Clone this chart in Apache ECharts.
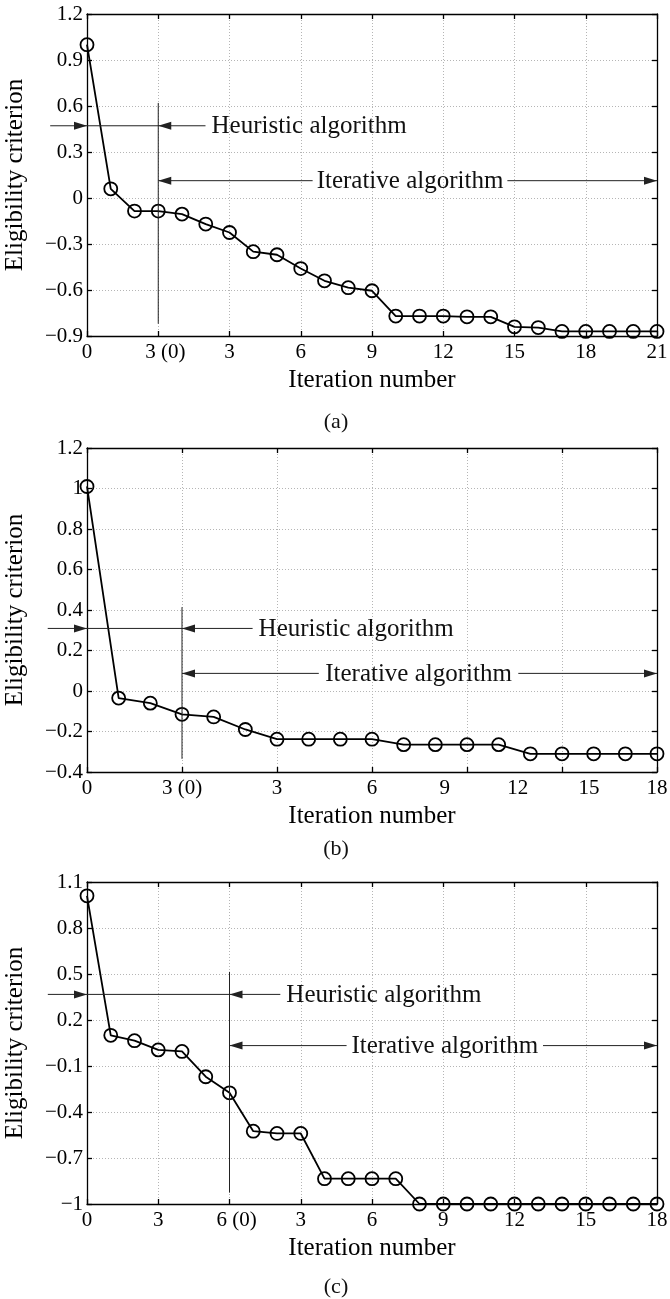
<!DOCTYPE html>
<html>
<head>
<meta charset="utf-8">
<script src="https://cdn.jsdelivr.net/npm/echarts@6/dist/echarts.min.js"></script>
<style>
html,body{margin:0;padding:0;background:#fff;}
#chart{width:670px;height:1299px;}
</style>
</head>
<body>
<div id="chart"></div>
<script>
// ---------------- data ----------------
const valuesA = [1.0, 0.06, -0.085, -0.085, -0.105, -0.17, -0.225, -0.35, -0.37, -0.46, -0.54, -0.585, -0.605,
                 -0.77, -0.77, -0.77, -0.775, -0.775, -0.84, -0.845, -0.87, -0.87, -0.87, -0.87, -0.87];
const valuesB = [1.01, -0.035, -0.06, -0.115, -0.128, -0.19, -0.238, -0.238, -0.238, -0.238,
                 -0.265, -0.265, -0.265, -0.265, -0.31, -0.31, -0.31, -0.31, -0.31];
const valuesC = [1.01, 0.1, 0.065, 0.005, -0.005, -0.17, -0.275, -0.525, -0.54, -0.54,
                 -0.835, -0.835, -0.835, -0.835, -1, -1, -1, -1, -1, -1, -1, -1, -1, -1, -1];

const xTickPosA = [0, 3, 6, 9, 12, 15, 18, 21, 24];
const xTickLabelsA = ['0', '3 (0)', '3', '6', '9', '12', '15', '18', '21'];
const xTickPosB = [0, 3, 6, 9, 11.3, 13.6, 15.85, 18];
const xTickLabelsB = ['0', '3 (0)', '3', '6', '9', '12', '15', '18'];
const xTickPosC = [0, 3, 6, 9, 12, 15, 18, 21, 24];
const xTickLabelsC = ['0', '3', '6 (0)', '3', '6', '9', '12', '15', '18'];

const yTicksA = [-0.9, -0.6, -0.3, 0, 0.3, 0.6, 0.9, 1.2];
const yTicksB = [-0.4, -0.2, 0, 0.2, 0.4, 0.6, 0.8, 1, 1.2];
const yTicksC = [-1, -0.7, -0.4, -0.1, 0.2, 0.5, 0.8, 1.1];

// annotation anchors (data units)
const switchX = [3, 3, 6];
const switchLineY = [[0.62, -0.82], [0.414, -0.335], [0.514, -0.926]];
const heurY = [0.471, 0.309, 0.367];
const heurSpan = [[-1.55, 4.99], [-1.24, 5.23], [-1.65, 8.14]];
const iterY = [0.113, 0.087, 0.033];
const iterGap = [[9.5, 17.7], [7.32, 13.62], [10.93, 19.2]];
const panelTags = ['(a)', '(b)', '(c)'];
const heurText = 'Heuristic algorithm';
const iterText = 'Iterative algorithm';

// ---------------- layout / style ----------------
const FONT = '"Liberation Serif", "Times New Roman", serif';
const grids = [
  {left: 87, right: 13, top: 14, height: 322},
  {left: 87, right: 13, top: 448, height: 324},
  {left: 87, right: 13, top: 882, height: 322}
];
const tagY = [422, 849, 1287];
const xLabelShift = [14, 0, 14];

const panels = [
  {vals: valuesA, xPos: xTickPosA, xLab: xTickLabelsA, yT: yTicksA, xMax: 24},
  {vals: valuesB, xPos: xTickPosB, xLab: xTickLabelsB, yT: yTicksB, xMax: 18},
  {vals: valuesC, xPos: xTickPosC, xLab: xTickLabelsC, yT: yTicksC, xMax: 24}
];

function fmtY(v) {
  const s = String(+(+v).toFixed(2));
  return s.replace('-', '\u2212');
}
const axisLineStyle = {color: '#000', width: 1.3};
const gridLineStyle = {color: '#b5b5b5', type: [1, 2], width: 1};

const xAxes = [], yAxes = [], series = [];
panels.forEach((p, i) => {
  const yMin = p.yT[0], yMax = p.yT[p.yT.length - 1];
  const labelFor = (v) => {
    let best = 0;
    p.xPos.forEach((q, k) => { if (Math.abs(q - v) < Math.abs(p.xPos[best] - v)) best = k; });
    const t = p.xLab[best];
    return t.indexOf('(') >= 0 && xLabelShift[i] ? '{s|' + t + '}' : t;
  };
  xAxes.push({
    gridIndex: i, type: 'value', min: 0, max: p.xMax, interval: 3, position: 'bottom',
    axisLine: {show: true, onZero: false, lineStyle: axisLineStyle},
    axisTick: {show: true, inside: true, length: 5, lineStyle: axisLineStyle},
    axisLabel: {
      customValues: p.xPos, formatter: labelFor, margin: 6, color: '#000',
      fontSize: 21, fontFamily: FONT,
      rich: {s: {fontSize: 21, fontFamily: FONT, color: '#000', padding: [0, 0, 0, xLabelShift[i]]}}
    },
    splitLine: {show: true, lineStyle: gridLineStyle},
    name: 'Iteration number', nameLocation: 'middle', nameGap: 32,
    nameTextStyle: {fontSize: 25, fontFamily: FONT, color: '#000'}
  });
  xAxes.push({
    gridIndex: i, type: 'value', min: 0, max: p.xMax, interval: 3, position: 'top',
    axisLine: {show: true, onZero: false, lineStyle: axisLineStyle},
    axisTick: {show: true, inside: true, length: 5, lineStyle: axisLineStyle},
    axisLabel: {show: false}, splitLine: {show: false}
  });
  const yCommon = {
    gridIndex: i, type: 'value', min: yMin, max: yMax
  };
  yAxes.push(Object.assign({}, yCommon, {
    position: 'left',
    axisLine: {show: true, onZero: false, lineStyle: axisLineStyle},
    axisTick: {show: true, inside: true, length: 5, lineStyle: axisLineStyle, customValues: p.yT},
    axisLabel: {customValues: p.yT, formatter: fmtY, margin: 4, color: '#000', fontSize: 21, fontFamily: FONT,
                padding: [4, 0, 0, 0]},
    splitLine: {show: true, lineStyle: gridLineStyle},
    name: 'Eligibility criterion', nameLocation: 'middle', nameGap: 59, nameRotate: 90,
    nameTextStyle: {fontSize: 25, fontFamily: FONT, color: '#000'}
  }));
  yAxes.push(Object.assign({}, yCommon, {
    position: 'right',
    axisLine: {show: true, onZero: false, lineStyle: axisLineStyle},
    axisTick: {show: true, inside: true, length: 5, lineStyle: axisLineStyle, customValues: p.yT},
    axisLabel: {show: false}, splitLine: {show: false}
  }));
  series.push({
    type: 'line', xAxisIndex: 2 * i, yAxisIndex: 2 * i,
    data: p.vals.map((v, k) => [k, v]),
    symbol: 'circle', symbolSize: 13, showSymbol: true, clip: false, silent: true,
    itemStyle: {color: 'rgba(0,0,0,0)', borderColor: '#000', borderWidth: 1.8},
    lineStyle: {color: '#000', width: 1.8},
    emphasis: {disabled: true}
  });
});

const option = {
  backgroundColor: '#fff',
  animation: false,
  grid: grids.map(g => Object.assign({outerBoundsMode: 'none', containLabel: false}, g)),
  xAxis: xAxes,
  yAxis: yAxes,
  series: series
};

const chart = echarts.init(document.getElementById('chart'), null, {renderer: 'canvas'});
chart.setOption(option);

// ---------------- annotations (positions through the axes' scales) ----------------
const ink = '#222';
function seg(a, b, w) {
  return {type: 'line', z: 50, silent: true,
    shape: {x1: a[0], y1: a[1], x2: b[0], y2: b[1]},
    style: {stroke: ink, lineWidth: w || 1}};
}
function head(tip, dir) {
  const L = 13, H = 4;
  return {type: 'polygon', z: 51, silent: true,
    shape: {points: [[tip[0], tip[1]], [tip[0] - dir * L, tip[1] - H], [tip[0] - dir * L, tip[1] + H]]},
    style: {fill: ink}};
}
function txt(x, y, s, align, size) {
  return {type: 'text', z: 52, silent: true, x: x, y: y,
    style: {text: s, fill: '#111', font: (size || 25) + 'px ' + FONT, align: align || 'left', verticalAlign: 'middle'}};
}
const els = [];
panels.forEach((p, i) => {
  const P = (x, y) => chart.convertToPixel({seriesIndex: i}, [x, y]);
  // switch line
  els.push(seg(P(switchX[i], switchLineY[i][0]), P(switchX[i], switchLineY[i][1]), 1));
  // heuristic
  const h0 = P(heurSpan[i][0], heurY[i]), h1 = P(heurSpan[i][1], heurY[i]);
  els.push(seg(h0, h1));
  els.push(head(P(0, heurY[i]), 1));
  els.push(head(P(switchX[i], heurY[i]), -1));
  els.push(txt(h1[0] + 6, h1[1] + 1, heurText, 'left'));
  // iterative
  const s0 = P(switchX[i], iterY[i]), g0 = P(iterGap[i][0], iterY[i]);
  const g1 = P(iterGap[i][1], iterY[i]), e = P(p.xMax, iterY[i]);
  els.push(seg(s0, g0));
  els.push(seg(g1, e));
  els.push(head(s0, -1));
  els.push(head(e, 1));
  els.push(txt((g0[0] + g1[0]) / 2, g0[1] + 1, iterText, 'center'));
  // panel tag
  els.push(txt(336, tagY[i], panelTags[i], 'center', 22));
});
chart.setOption({graphic: {elements: els}});
</script>
</body>
</html>
